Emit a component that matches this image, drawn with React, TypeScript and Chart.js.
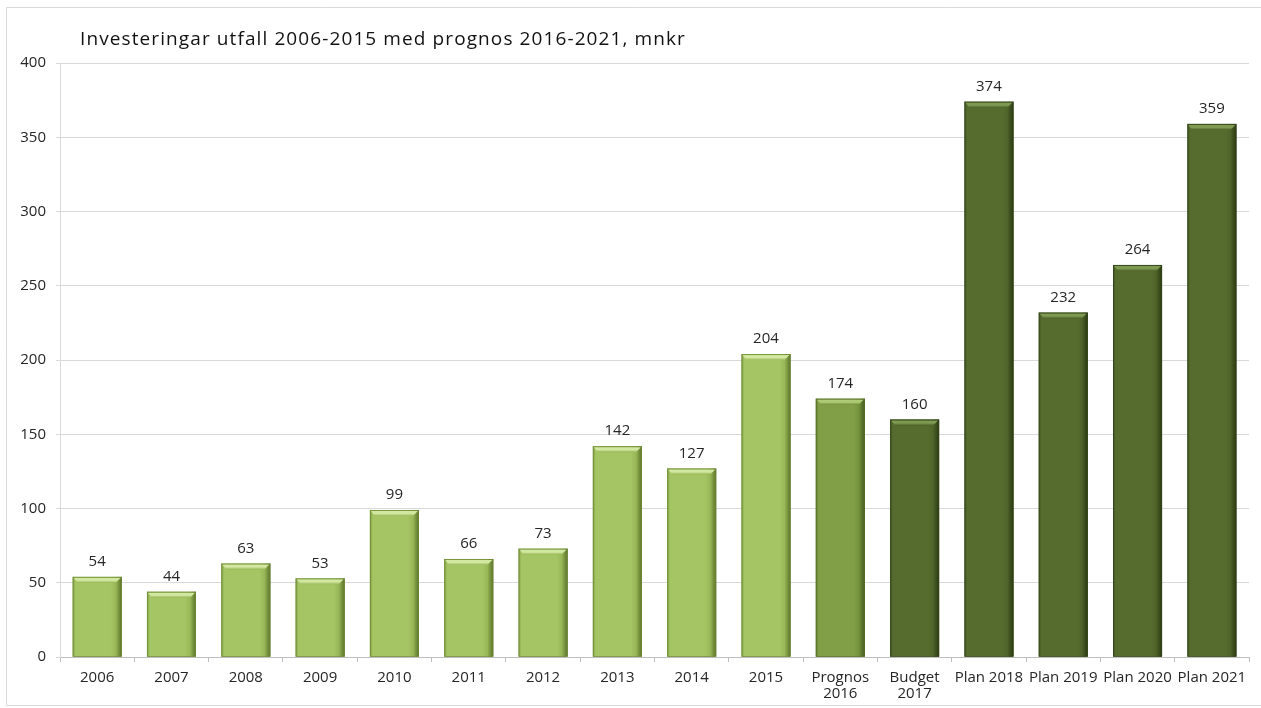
import React, { useEffect, useRef } from "react";
import { Chart, registerables } from "chart.js";

Chart.register(...registerables);

const chartTitle = "Investeringar utfall 2006-2015 med prognos 2016-2021, mnkr";
const categories: (string | string[])[] = [
  "2006", "2007", "2008", "2009", "2010", "2011", "2012", "2013", "2014", "2015",
  ["Prognos", "2016"], ["Budget", "2017"], "Plan 2018", "Plan 2019", "Plan 2020", "Plan 2021",
];
const values = [54, 44, 63, 53, 99, 66, 73, 142, 127, 204, 174, 160, 374, 232, 264, 359];
const barKinds = [
  "utfall", "utfall", "utfall", "utfall", "utfall", "utfall", "utfall", "utfall", "utfall", "utfall",
  "prognos", "plan", "plan", "plan", "plan", "plan",
];
const yMin = 0;
const yMax = 400;
const yStep = 50;

const palette: Record<string, { left: string; body: string; mid: string; edge: string; bevel: string; outline: string }> = {
  utfall: { left: "#809F44", body: "#A5C564", mid: "#98B858", edge: "#5A7228", bevel: "#D2E7A0", outline: "#6E8A34" },
  prognos: { left: "#627F30", body: "#809F46", mid: "#74923C", edge: "#45591F", bevel: "#AECA74", outline: "#556E28" },
  plan: { left: "#3F5220", body: "#566C2E", mid: "#4E6329", edge: "#2A3812", bevel: "#7E9A52", outline: "#34461A" },
};

const FONT = "'Open Sans', 'DejaVu Sans', sans-serif";

const decorPlugin = {
  id: "decor",
  beforeDraw(chart: any) {
    const ctx = chart.ctx;
    ctx.save();
    ctx.fillStyle = "#ffffff";
    ctx.fillRect(0, 0, chart.width, chart.height);
    ctx.strokeStyle = "#d9d9d9";
    ctx.lineWidth = 1;
    ctx.beginPath();
    ctx.moveTo(6.5, 705.5);
    ctx.lineTo(6.5, 7.5);
    ctx.lineTo(chart.width, 7.5);
    ctx.moveTo(6.5, 705.5);
    ctx.lineTo(chart.width, 705.5);
    ctx.stroke();
    ctx.fillStyle = "#111111";
    ctx.font = `19px ${FONT}`;
    try {
      (ctx as any).letterSpacing = "1.1px";
    } catch (e) {}
    ctx.textBaseline = "middle";
    ctx.textAlign = "left";
    ctx.fillText(chartTitle, 80, 40);
    try {
      (ctx as any).letterSpacing = "0px";
    } catch (e) {}
    ctx.restore();
  },
  afterDatasetsDraw(chart: any) {
    const ctx = chart.ctx;
    const meta = chart.getDatasetMeta(0);
    ctx.save();
    meta.data.forEach((bar: any, i: number) => {
      const p = palette[barKinds[i]];
      const w = bar.width;
      const left = bar.x - w / 2;
      const right = bar.x + w / 2;
      const top = bar.y;
      const bottom = bar.base;
      const g = ctx.createLinearGradient(left, 0, right, 0);
      g.addColorStop(0, p.left);
      g.addColorStop(0.06, p.body);
      g.addColorStop(0.78, p.body);
      g.addColorStop(0.88, p.mid);
      g.addColorStop(1, p.edge);
      ctx.fillStyle = g;
      ctx.fillRect(left, top, w, bottom - top);
      const b = 6;
      // right bevel face
      const rg = ctx.createLinearGradient(right - b, 0, right, 0);
      rg.addColorStop(0, p.mid);
      rg.addColorStop(1, p.edge);
      ctx.fillStyle = rg;
      ctx.beginPath();
      ctx.moveTo(right, top);
      ctx.lineTo(right, bottom);
      ctx.lineTo(right - b + 1, bottom);
      ctx.lineTo(right - b + 1, top + b);
      ctx.closePath();
      ctx.fill();
      // top bevel face
      const vg = ctx.createLinearGradient(0, top, 0, top + b);
      vg.addColorStop(0, p.bevel);
      vg.addColorStop(0.6, p.bevel);
      vg.addColorStop(1, p.mid);
      ctx.fillStyle = vg;
      ctx.beginPath();
      ctx.moveTo(left + 1, top + 1);
      ctx.lineTo(right - 1, top + 1);
      ctx.lineTo(right - b, top + b);
      ctx.lineTo(left + b - 1, top + b);
      ctx.closePath();
      ctx.fill();
      // outline
      ctx.strokeStyle = p.outline;
      ctx.lineWidth = 1;
      ctx.globalAlpha = 0.8;
      ctx.strokeRect(left + 0.5, top + 0.5, w - 1, bottom - top - 0.5);
      ctx.globalAlpha = 1;
      // value label
      ctx.fillStyle = "#262626";
      ctx.font = `15px ${FONT}`;
      ctx.textAlign = "center";
      ctx.textBaseline = "middle";
      ctx.fillText(String(values[i]), bar.x, top - 15);
    });
    ctx.restore();
  },
};

export default function App() {
  const ref = useRef<HTMLCanvasElement | null>(null);
  useEffect(() => {
    document.body.style.margin = "0";
    if (!ref.current) return;
    const chart = new Chart(ref.current, {
      type: "bar",
      data: {
        labels: categories,
        datasets: [
          {
            data: values,
            backgroundColor: "rgba(0,0,0,0)",
            borderWidth: 0,
            categoryPercentage: 1,
            barPercentage: 0.66,
          },
        ],
      },
      options: {
        responsive: false,
        animation: false,
        devicePixelRatio: 1,
        layout: { padding: { left: 8, right: 12, top: 63, bottom: 6 } },
        plugins: { legend: { display: false }, tooltip: { enabled: false }, title: { display: false } },
        scales: {
          x: {
            offset: true,
            grid: { display: true, drawOnChartArea: false, drawTicks: true, tickLength: 5, color: "#bfbfbf", offset: true },
            border: { display: true, color: "#bfbfbf" },
            ticks: {
              color: "#262626",
              font: { family: FONT, size: 15, lineHeight: 1.1 },
              maxRotation: 0,
              autoSkip: false,
              padding: 7,
            },
            afterFit: (s: any) => {
              s.height = 45;
            },
          },
          y: {
            min: yMin,
            max: yMax,
            grid: { color: "#d9d9d9", tickLength: 4, drawTicks: true },
            border: { display: true, color: "#d9d9d9" },
            ticks: {
              stepSize: yStep,
              color: "#262626",
              font: { family: FONT, size: 15 },
              padding: 10,
            },
            afterFit: (s: any) => {
              s.width = 52;
            },
          },
        },
      },
      plugins: [decorPlugin],
    });
    return () => chart.destroy();
  }, []);
  return (
    <div style={{ width: 1261, height: 708 }}>
      <canvas ref={ref} width={1261} height={708} style={{ display: "block" }} />
    </div>
  );
}
